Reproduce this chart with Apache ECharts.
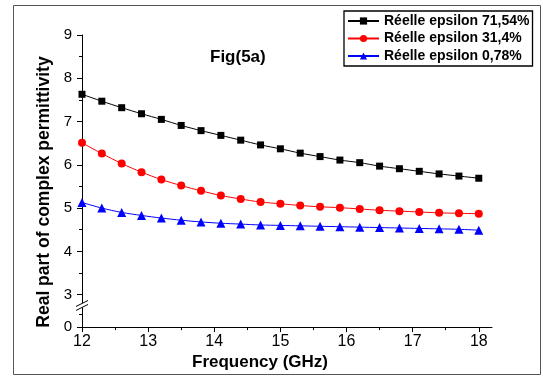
<!DOCTYPE html>
<html>
<head>
<meta charset="utf-8">
<script src="https://cdn.jsdelivr.net/npm/echarts@6/dist/echarts.min.js"></script>
<style>
  html, body { margin: 0; padding: 0; background: #fff; }
  #chart { width: 543px; height: 376px; }
</style>
</head>
<body>
<div id="chart"></div>
<script>
// frequency points (GHz)
const freq = [12, 12.3, 12.6, 12.9, 13.2, 13.5, 13.8, 14.1, 14.4, 14.7, 15,
  15.3, 15.6, 15.9, 16.2, 16.5, 16.8, 17.1, 17.4, 17.7, 18];

// real part of permittivity for each sample
const eps7154 = [7.63, 7.47, 7.32, 7.18, 7.05, 6.91, 6.79, 6.68, 6.57, 6.46, 6.37,
  6.27, 6.19, 6.11, 6.05, 5.97, 5.91, 5.85, 5.79, 5.74, 5.69];
const eps314 = [6.51, 6.26, 6.03, 5.83, 5.66, 5.52, 5.40, 5.29, 5.21, 5.14, 5.10,
  5.06, 5.03, 5.01, 4.98, 4.95, 4.93, 4.91, 4.89, 4.88, 4.87];
const eps078 = [5.13, 5.00, 4.90, 4.83, 4.77, 4.72, 4.68, 4.65, 4.63, 4.61, 4.60,
  4.59, 4.58, 4.57, 4.56, 4.55, 4.54, 4.53, 4.52, 4.51, 4.49];

const seriesNames = ['Réelle epsilon 71,54%', 'Réelle epsilon 31,4%', 'Réelle epsilon 0,78%'];

// tick labels
const xTicks = [12, 13, 14, 15, 16, 17, 18];
const xMinorTicks = [12.5, 13.5, 14.5, 15.5, 16.5, 17.5];
// the axis is broken below 3: the bottom value 2.25 stands for 0
const yZero = 2.25;
const yTicks = [2.25, 3, 4, 5, 6, 7, 8, 9];
const yMinorTicks = [2.55, 3.5, 4.5, 5.5, 6.5, 7.5, 8.5];

const FONT = '"Liberation Sans", Arial, sans-serif';

const chart = echarts.init(document.getElementById('chart'));

function pairs(ys) {
  return freq.map((f, i) => [f, ys[i]]);
}

function makeSeries(name, ys, color, symbol, size) {
  return {
    name: name,
    type: 'line',
    data: pairs(ys),
    smooth: 0.3,
    symbol: symbol,
    symbolSize: size,
    showAllSymbol: true,
    lineStyle: { color: color, width: 1 },
    itemStyle: { color: color },
    emphasis: { disabled: true },
    z: 3,
  };
}

const option = {
  animation: false,
  title: {
    text: 'Fig(5a)',
    left: 210,
    top: 49,
    padding: 0,
    textStyle: { fontFamily: FONT, fontSize: 17, fontWeight: 'bold', color: '#000' },
  },
  legend: {
    orient: 'vertical',
    left: 344,
    top: 11,
    padding: [3, 3, 3, 3],
    itemGap: 3.5,
    itemWidth: 31,
    itemHeight: 9,
    backgroundColor: '#fff',
    borderColor: '#000',
    borderWidth: 1.3,
    data: seriesNames,
    textStyle: { fontFamily: FONT, fontSize: 14, fontWeight: 'bold', color: '#000' },
  },
  grid: { left: 82, right: 51, top: 35, bottom: 45 },
  xAxis: [
    {
      type: 'value',
      min: 12,
      max: 18.2,
      name: 'Frequency (GHz)',
      nameLocation: 'middle',
      nameGap: 24,
      nameTextStyle: { fontFamily: FONT, fontSize: 17, fontWeight: 'bold', color: '#000', padding: [0, 54, 0, 0] },
      axisLine: { lineStyle: { color: '#000', width: 1 } },
      axisTick: { customValues: xTicks, length: 5, lineStyle: { color: '#000' } },
      axisLabel: { customValues: xTicks, margin: 6, fontFamily: FONT, fontSize: 16, color: '#000' },
      splitLine: { show: false },
    },
    {
      type: 'value',
      position: 'bottom',
      min: 12,
      max: 18.2,
      axisLine: { show: false },
      axisTick: { customValues: xMinorTicks, length: 3, lineStyle: { color: '#000' } },
      axisLabel: { show: false },
      splitLine: { show: false },
    },
  ],
  yAxis: [
    {
      type: 'value',
      min: yZero,
      max: 9,
      name: 'Real part of complex permittivity',
      nameLocation: 'middle',
      nameGap: 26,
      nameTextStyle: { fontFamily: FONT, fontSize: 17.5, fontWeight: 'bold', color: '#000', padding: [0, 22, 0, 0] },
      axisLine: { show: true, lineStyle: { color: '#000', width: 1 } },
      axisTick: { show: true, customValues: yTicks, length: 5, lineStyle: { color: '#000' } },
      axisLabel: {
        customValues: yTicks,
        margin: 10,
        fontFamily: FONT,
        fontSize: 15,
        color: '#000',
        formatter: (v) => (v === yZero ? '0' : String(v)),
      },
      splitLine: { show: false },
    },
    {
      type: 'value',
      position: 'left',
      min: yZero,
      max: 9,
      axisLine: { show: false },
      axisTick: { show: true, customValues: yMinorTicks, length: 3, lineStyle: { color: '#000' } },
      axisLabel: { show: false },
      splitLine: { show: false },
    },
  ],
  series: [
    makeSeries(seriesNames[0], eps7154, '#000000', 'rect', 7),
    makeSeries(seriesNames[1], eps314, '#ff0000', 'circle', 8),
    makeSeries(seriesNames[2], eps078, '#0000ff', 'triangle', 9),
  ],
};

chart.setOption(option);

// outer frame and the break mark on the y axis
const ax = chart.convertToPixel({ xAxisIndex: 0 }, 12);
const by = chart.convertToPixel({ yAxisIndex: 0 }, 2.75);
chart.setOption({
  graphic: [
    {
      type: 'rect',
      shape: { x: 13.5, y: 5.5, width: 527, height: 369 },
      style: { fill: 'none', stroke: '#555', lineWidth: 1 },
      silent: true,
      z: 0,
    },
    {
      type: 'polygon',
      shape: { points: [[ax - 6, by + 1], [ax + 6, by - 5], [ax + 6, by - 1], [ax - 6, by + 5]] },
      style: { fill: '#fff' },
      silent: true,
      z: 10,
    },
    {
      type: 'line',
      shape: { x1: ax - 6, y1: by + 1, x2: ax + 6, y2: by - 5 },
      style: { stroke: '#000', lineWidth: 1 },
      silent: true,
      z: 11,
    },
    {
      type: 'line',
      shape: { x1: ax - 6, y1: by + 5, x2: ax + 6, y2: by - 1 },
      style: { stroke: '#000', lineWidth: 1 },
      silent: true,
      z: 11,
    },
  ],
});
</script>
</body>
</html>
